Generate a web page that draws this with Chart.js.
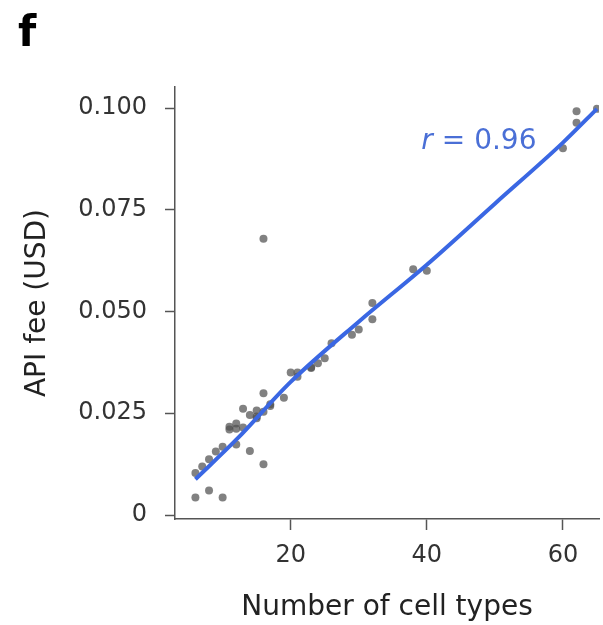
<!DOCTYPE html>
<html>
<head>
<meta charset="utf-8">
<script src="https://cdn.jsdelivr.net/npm/chart.js@4.4.1/dist/chart.umd.min.js"></script>
<style>
  html, body { margin: 0; padding: 0; background: #fff; }
  #wrap { width: 603px; height: 625px; position: relative; }
</style>
</head>
<body>
<div id="wrap"><canvas id="chart" width="603" height="625"></canvas></div>
<script>
// === Data ===
const cellTypes = [6, 8, 10, 6, 7, 8, 9, 10, 12, 14, 16, 11, 11, 12, 12, 13, 13, 14, 15, 15, 15, 16, 16, 17, 17, 19,
  20, 21, 21, 23, 23, 24, 25, 26, 29, 30, 32, 32, 38, 40, 60, 62, 62, 65, 16];
const apiFee = [0.0043, 0.0060, 0.0043, 0.0103, 0.0119, 0.0137, 0.0156, 0.0168, 0.0173, 0.0157, 0.0125, 0.0210, 0.0217,
  0.0225, 0.0212, 0.0261, 0.0215, 0.0246, 0.0238, 0.0242, 0.0257, 0.0299, 0.0254, 0.0272, 0.0268, 0.0288,
  0.0350, 0.0340, 0.0350, 0.0361, 0.0363, 0.0373, 0.0385, 0.0422, 0.0443, 0.0456, 0.0521, 0.0481,
  0.0604, 0.0600, 0.0901, 0.0992, 0.0964, 0.0998, 0.0679];

// smoothed fit line
const fitX = [6, 12, 20, 30, 40, 50, 60, 65];
const fitY = [0.0088, 0.0185, 0.0327, 0.0475, 0.0615, 0.0765, 0.0915, 0.0998];

const xTicks = [20, 40, 60];
const yTicks = [0, 0.025, 0.05, 0.075, 0.1];
const yTickLabels = ["0", "0.025", "0.050", "0.075", "0.100"];
const corrLabel = { pre: "r", post: " = 0.96", x: 39.2, y: 0.0900 };

const FONT = "'DejaVu Sans', sans-serif";
const axisColor = "#555";
const blue = "#3a67e3";

const points = cellTypes.map((x, i) => ({ x: x, y: apiFee[i] }));
const fitLine = fitX.map((x, i) => ({ x: x, y: fitY[i] }));

// panel letter + r label
const annotations = {
  id: "annotations",
  afterDraw(chart) {
    const ctx = chart.ctx;
    const xs = chart.scales.x, ys = chart.scales.y;
    ctx.save();
    ctx.fillStyle = "#000";
    ctx.font = "bold 42px " + FONT;
    ctx.textBaseline = "alphabetic";
    ctx.fillText("f", 18, 46);

    ctx.fillStyle = "#4a6fd6";
    const px = xs.getPixelForValue(corrLabel.x);
    const py = ys.getPixelForValue(corrLabel.y);
    ctx.font = "italic 28px " + FONT;
    ctx.fillText(corrLabel.pre, px, py);
    const w = ctx.measureText(corrLabel.pre).width;
    ctx.font = "28px " + FONT;
    ctx.fillText(corrLabel.post, px + w, py);
    ctx.restore();
  }
};

const ctx = document.getElementById("chart").getContext("2d");
new Chart(ctx, {
  type: "scatter",
  data: {
    datasets: [
      {
        type: "scatter",
        data: points,
        pointRadius: 4,
        pointBorderWidth: 0,
        backgroundColor: "rgba(80,80,80,0.72)",
        order: 2
      },
      {
        type: "line",
        data: fitLine,
        borderColor: blue,
        borderWidth: 4,
        pointRadius: 0,
        tension: 0.4,
        cubicInterpolationMode: "monotone",
        fill: false,
        order: 1
      }
    ]
  },
  options: {
    responsive: false,
    animation: false,
    layout: { padding: { left: 0, right: 3, top: 87, bottom: 0 } },
    plugins: { legend: { display: false }, tooltip: { enabled: false } },
    scales: {
      x: {
        type: "linear",
        min: 3.0,
        max: 65.3,
        afterBuildTicks: s => { s.ticks = xTicks.map(v => ({ value: v })); },
        afterFit: s => { s.height = 106; },
        grid: { drawOnChartArea: false, drawTicks: true, tickLength: 11, tickColor: axisColor, tickWidth: 1.5 },
        border: { display: true, color: axisColor, width: 1.5 },
        ticks: { color: "#333", font: { family: FONT, size: 24 }, padding: 11 },
        title: { display: true, text: "Number of cell types", color: "#222", font: { family: FONT, size: 28 }, padding: { top: 0, bottom: 0 } }
      },
      y: {
        type: "linear",
        min: -0.00098,
        max: 0.10516,
        afterBuildTicks: s => { s.ticks = yTicks.map(v => ({ value: v })); },
        afterFit: s => { s.width = 175; },
        grid: { drawOnChartArea: false, drawTicks: true, tickLength: 10, tickColor: axisColor, tickWidth: 1.5 },
        border: { display: true, color: axisColor, width: 1.5 },
        ticks: {
          color: "#333",
          font: { family: FONT, size: 24 },
          padding: 18,
          callback: (v) => {
            const i = yTicks.indexOf(v);
            return i >= 0 ? yTickLabels[i] : "";
          }
        },
        title: { display: true, text: "API fee (USD)", color: "#222", font: { family: FONT, size: 28 }, padding: { top: 21, bottom: 0 } }
      }
    }
  },
  plugins: [annotations]
});
</script>
</body>
</html>
